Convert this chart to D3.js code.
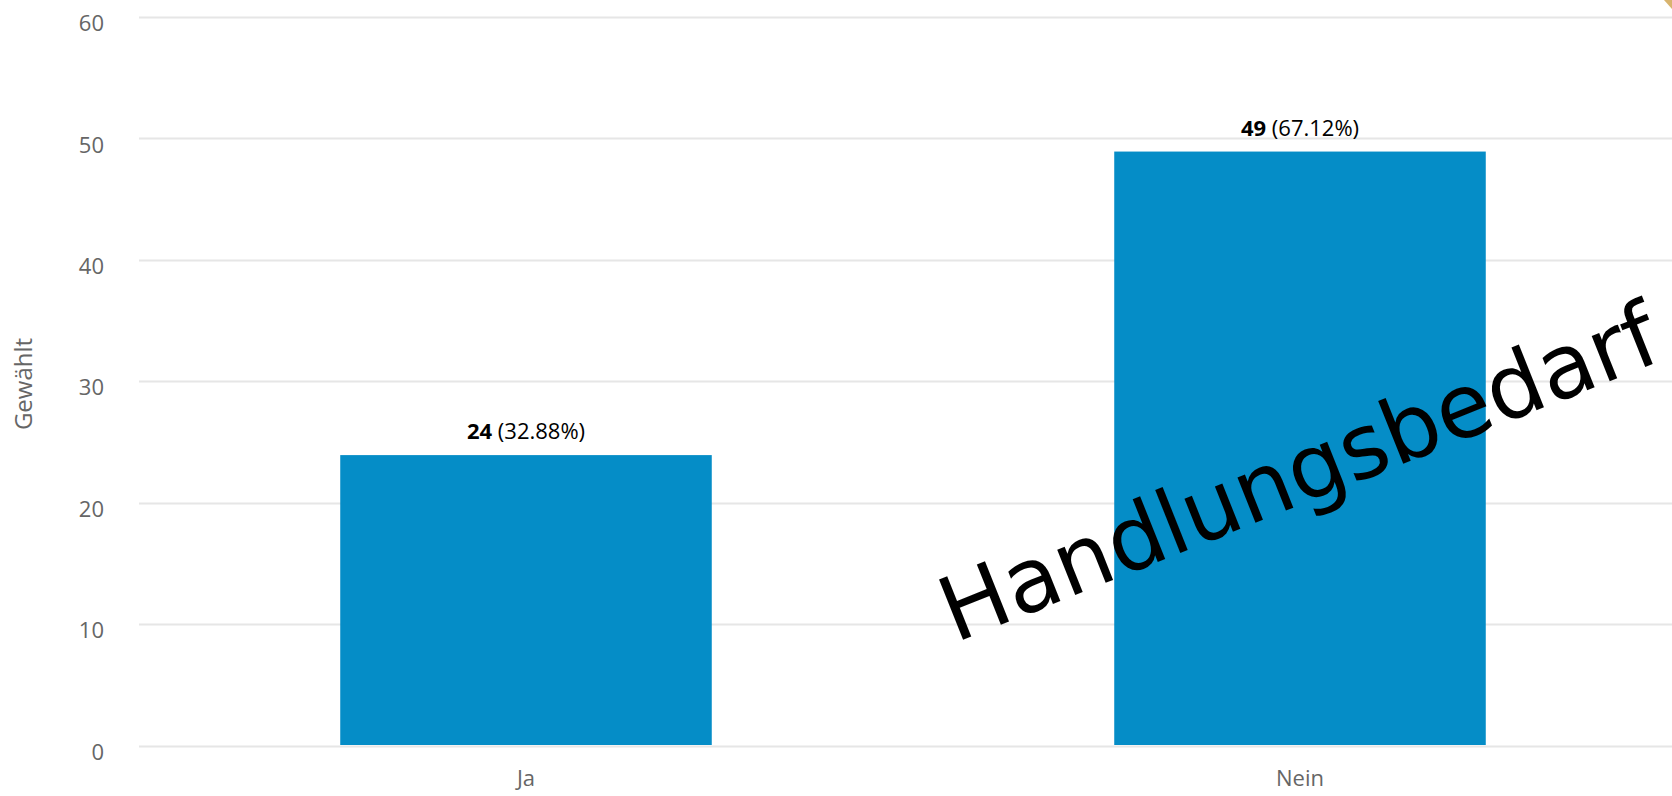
<!DOCTYPE html>
<html><head><meta charset="utf-8">
<script src="https://cdn.jsdelivr.net/npm/d3@7"></script>
<style>html,body{margin:0;padding:0;background:#fff;overflow:hidden}</style>
</head><body>
<svg id="chart" width="1672" height="796"></svg>
<script>
const categories = ["Ja", "Nein"];
const values = [24, 49];
const percents = ["32.88%", "67.12%"];
const yTicks = [0, 10, 20, 30, 40, 50, 60];
const yTitle = "Gewählt";
const watermark = "Handlungsbedarf";

(function () {
const svg = d3.select("#chart");
const W = 1672, H = 796;
const pLeft = 139, pRight = 1687, pTop = 17, pBottom = 745.5;

const x = d3.scaleBand().domain(categories).range([pLeft, pRight]).paddingInner(0.52).paddingOuter(0.26);
const y = d3.scaleLinear().domain([0, 60]).range([pBottom, pTop]);

// gridlines
svg.append("g").selectAll("line").data(yTicks).join("line")
  .attr("x1", pLeft).attr("x2", W)
  .attr("y1", d => Math.round(y(d)) + 0.5).attr("y2", d => Math.round(y(d)) + 0.5)
  .attr("stroke", "#e6e6e6").attr("stroke-width", 2);

// y axis labels
const yAxis = d3.axisLeft(y).tickValues(yTicks).tickSize(0).tickPadding(0);
const gy = svg.append("g").attr("transform", `translate(104,0)`).call(yAxis);
gy.select(".domain").remove();
gy.selectAll("text").attr("font-family", "Open Sans").attr("font-size", 22).attr("fill", "#666666").attr("dy", "0.62em");

// x axis labels
const xAxis = d3.axisBottom(x).tickSize(0).tickPadding(0);
const gx = svg.append("g").attr("transform", `translate(0,786)`).call(xAxis);
gx.select(".domain").remove();
gx.selectAll("text").attr("font-family", "Open Sans").attr("font-size", 22).attr("fill", "#666666").attr("dy", "0");

// y title
svg.append("text").attr("transform", `translate(32,384) rotate(-90)`)
  .attr("text-anchor", "middle").attr("font-family", "Open Sans").attr("font-size", 24)
  .attr("fill", "#666666").text(yTitle);

// bars
svg.append("g").selectAll("rect").data(values).join("rect")
  .attr("x", (d, i) => x(categories[i])).attr("width", x.bandwidth())
  .attr("y", d => y(d) + 1).attr("height", d => y(0) - y(d) - 1.5)
  .attr("fill", "#058DC7");

// data labels
const lab = svg.append("g").selectAll("text").data(values).join("text")
  .attr("x", (d, i) => x(categories[i]) + x.bandwidth() / 2)
  .attr("y", d => y(d) - 15)
  .attr("text-anchor", "middle").attr("font-family", "Open Sans").attr("font-size", 22).attr("fill", "#000");
lab.append("tspan").attr("font-weight", "bold").text(d => d);
lab.append("tspan").text((d, i) => " (" + percents[i] + ")");

// small corner decoration (top-right)
svg.append("path").attr("d", `M${W - 8},0 L${W},0 L${W},9 Z`).attr("fill", "#d8b46e");

// watermark
svg.append("text")
  .attr("transform", `translate(955,643) rotate(-21.8)`)
  .attr("font-family", "DejaVu Sans").attr("font-size", 89).attr("fill", "#000")
  .text(watermark);
})();
</script>
</body></html>
